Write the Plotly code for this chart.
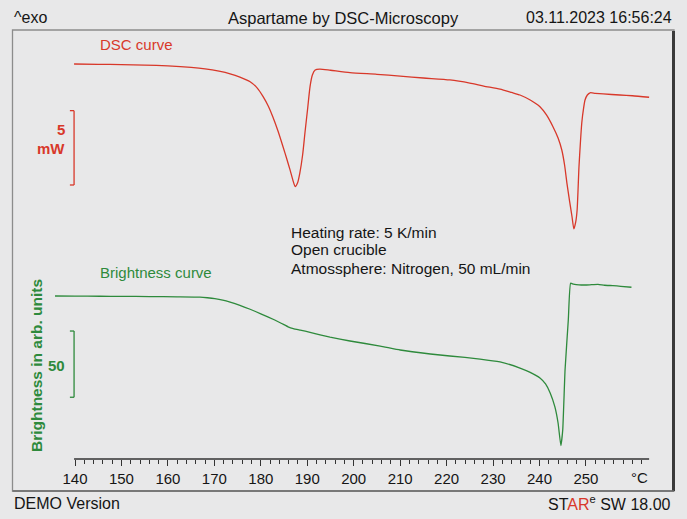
import plotly.graph_objects as go

# ---------------- data ----------------
dsc_temp = [139.8, 145.0, 150.0, 155.0, 160.0, 165.0, 168.0, 171.0, 173.4, 175.5,
            177.7, 179.2, 180.5, 181.6, 182.6, 183.7, 184.8, 185.6, 186.3, 186.9,
            187.4, 187.9, 188.4, 189.0, 189.5, 190.1, 190.6, 191.1, 191.7, 192.7,
            195.0, 199.2, 205.0, 210.0, 215.0, 220.7, 225.0, 228.0, 231.5, 234.0,
            235.8, 238.0, 240.1, 241.5, 242.9, 244.0, 244.8, 245.4, 245.9, 246.5,
            247.0, 247.4, 247.8, 248.1, 248.5, 248.8, 249.1, 249.5, 249.8, 250.3,
            250.9, 252.0, 253.7, 257.3, 260.0, 263.6]
dsc_mw = [0.00, -0.02, -0.04, -0.07, -0.12, -0.22, -0.32, -0.48, -0.66, -0.88,
          -1.19, -1.60, -2.19, -2.82, -3.56, -4.50, -5.57, -6.38, -7.11, -7.79,
          -8.23, -7.99, -7.32, -6.11, -4.63, -2.95, -1.52, -0.74, -0.40, -0.34,
          -0.42, -0.58, -0.69, -0.81, -0.94, -1.07, -1.28, -1.48, -1.68, -1.91,
          -2.08, -2.42, -2.87, -3.42, -4.21, -4.97, -5.77, -6.78, -7.99, -9.26,
          -10.25, -11.07, -10.60, -9.80, -6.89, -5.30, -3.96, -2.95, -2.42, -2.08,
          -1.93, -1.97, -2.01, -2.08, -2.13, -2.23]

bright_temp = [135.7, 140.0, 145.4, 150.0, 156.1, 162.0, 166.9, 168.5, 170.1, 171.8,
               173.4, 175.5, 177.7, 180.0, 183.0, 184.5, 186.0, 187.0, 188.5, 190.6,
               194.9, 199.2, 205.7, 210.0, 216.5, 220.7, 227.2, 231.5, 235.8, 238.0,
               240.1, 241.3, 242.3, 243.3, 244.0, 244.6, 245.0, 245.5, 246.2, 246.7,
               247.3, 248.5, 250.1, 251.5, 252.6, 254.0, 255.8, 257.5, 259.8]
bright_val = [150.0, 149.9, 149.8, 149.7, 149.6, 149.4, 149.2, 148.7, 148.0, 146.9,
              145.4, 143.0, 140.0, 136.6, 131.9, 129.3, 126.6, 125.5, 124.3, 122.6,
              119.0, 116.1, 112.3, 109.3, 106.3, 104.8, 102.5, 100.3, 95.7, 92.4,
              88.2, 83.7, 76.9, 66.6, 54.3, 37.2, 49.0, 94.2, 131.9, 159.6,
              159.0, 158.4, 158.3, 158.6, 158.8, 158.1, 157.8, 157.3, 156.6]

tick_values = [140, 150, 160, 170, 180, 190, 200, 210, 220, 230, 240, 250]
tick_labels = ["140", "150", "160", "170", "180", "190", "200", "210", "220",
               "230", "240", "250"]
minor_ticks = [t for t in range(142, 264, 2) if t % 10 != 0 or t > 250]

dsc_bar = [-3.13, -8.12]       # 5 mW scale bar
bright_bar = [123.6, 73.7]     # 50 units scale bar

RED = "#d8382a"
GREEN = "#2e8a3c"
BG = "#e8e8e9"
INK = "#151515"
FONT = "Liberation Sans, Arial, sans-serif"

W, H = 687, 519
def px(x):
    return x / W
def py(y):
    return 1 - y / H

fig = go.Figure()
fig.add_trace(go.Scatter(x=dsc_temp, y=dsc_mw, mode="lines",
                         line=dict(color=RED, width=1.3, shape="spline", smoothing=0.6),
                         yaxis="y", hoverinfo="skip"))
fig.add_trace(go.Scatter(x=bright_temp, y=bright_val, mode="lines",
                         line=dict(color=GREEN, width=1.3, shape="spline", smoothing=0.4),
                         yaxis="y2", hoverinfo="skip"))

shapes = []
# frame
shapes.append(dict(type="rect", xref="paper", yref="paper", x0=px(12.5), x1=px(674),
                   y0=py(491), y1=py(30), line=dict(color="#8c8c8c", width=1.3)))
shapes.append(dict(type="line", xref="paper", yref="paper", x0=px(673.5), x1=px(673.5),
                   y0=py(491), y1=py(31), line=dict(color="#3a3a3a", width=3)))
shapes.append(dict(type="line", xref="paper", yref="paper", x0=px(12.5), x1=px(674),
                   y0=py(491), y1=py(491), line=dict(color="#6a6a6a", width=1.3)))
# x axis line
shapes.append(dict(type="line", xref="x", yref="paper", x0=139.8, x1=263.6,
                   y0=py(459), y1=py(459), line=dict(color="#333333", width=1.5)))
# scale bars (brackets)
for ax, (top, bot), col in (("y", dsc_bar, RED), ("y2", bright_bar, GREEN)):
    shapes.append(dict(type="line", xref="x", yref=ax, x0=139.8, x1=139.8, y0=top, y1=bot,
                       line=dict(color=col, width=1.3)))
    for v in (top, bot):
        shapes.append(dict(type="line", xref="x", yref=ax, x0=138.9, x1=139.8, y0=v, y1=v,
                           line=dict(color=col, width=1.3)))

ann = []
def text(x, y, s, color=INK, size=14, xanchor="left", bold=False, **kw):
    if bold:
        s = "<b>" + s + "</b>"
    ann.append(dict(xref="paper", yref="paper", x=px(x), y=py(y), text=s, showarrow=False,
                    xanchor=xanchor, yanchor="middle", font=dict(color=color, size=size, family=FONT), **kw))

text(12, 18, "^exo", size=16)
text(343, 18, "Aspartame by DSC-Microscopy", size=16.5, xanchor="center")
text(674, 18, "03.11.2023 16:56:24", size=16, xanchor="right")
text(12, 503, "DEMO Version", size=16)
text(673, 503, 'ST<span style="color:%s">AR</span><sup>e</sup> SW 18.00' % RED, size=16, xanchor="right")
text(98, 44, "DSC curve", color=RED, size=15)
text(98, 272, "Brightness curve", color=GREEN, size=15)
text(67, 129, "5", color=RED, size=15, xanchor="right", bold=True)
text(67, 149, "mW", color=RED, size=15, xanchor="right", bold=True)
text(67, 365, "50", color=GREEN, size=15, xanchor="right", bold=True)
ann.append(dict(xref="paper", yref="paper", x=px(36), y=py(366), text="<b>Brightness in arb. units</b>",
                showarrow=False, textangle=-90, xanchor="center", yanchor="middle",
                font=dict(color=GREEN, size=15.5, family=FONT)))
text(289, 232, "Heating rate: 5 K/min", size=15.5)
text(289, 250, "Open crucible", size=15.5)
text(289, 268, "Atmossphere: Nitrogen, 50 mL/min", size=15.5)
text(639, 477, "°C", size=15, xanchor="center")

x0 = 140 - 75 / 4.645
x1 = 140 + (W - 75) / 4.645
fig.update_layout(
    width=W, height=H, margin=dict(l=0, r=0, t=0, b=0),
    paper_bgcolor=BG, plot_bgcolor=BG, showlegend=False,
    font=dict(family=FONT, color=INK),
    xaxis=dict(domain=[0, 1], range=[x0, x1], showgrid=False, zeroline=False, showline=False,
               anchor="free", position=py(459), tickmode="array", tickvals=tick_values,
               ticktext=tick_labels, ticks="outside", ticklen=6, tickwidth=1.2, tickcolor="#333333",
               tickfont=dict(size=15, family=FONT, color=INK),
               minor=dict(tickvals=minor_ticks, ticks="outside", ticklen=4, tickwidth=1, tickcolor="#333333")),
    yaxis=dict(domain=[0, 1], range=[(64 - H) / 14.9, 64 / 14.9], visible=False),
    yaxis2=dict(domain=[0, 1], range=[150 - (H - 296) / 1.327, 150 + 296 / 1.327], visible=False,
                overlaying="y"),
    shapes=shapes, annotations=ann,
)

fig.write_html("out.html", config={"displayModeBar": False},
               post_script="document.body.style.margin='0px';")
